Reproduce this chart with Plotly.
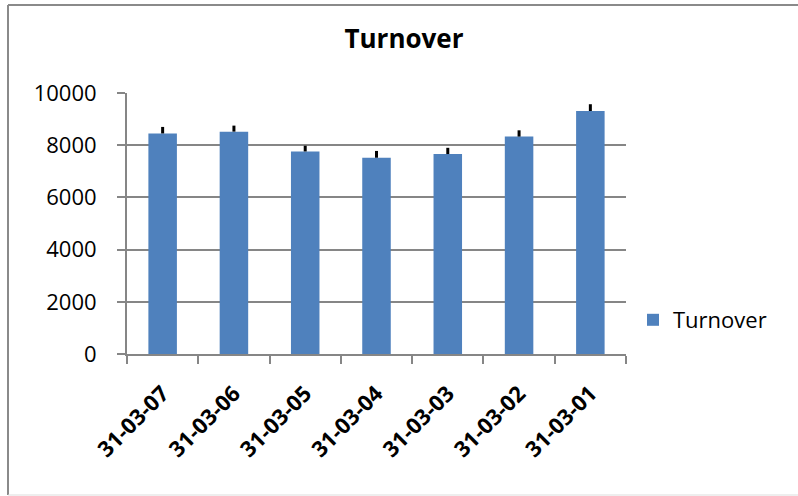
import plotly.graph_objects as go

# Turnover per financial year end, with upper error amounts
dates = ["31-03-07", "31-03-06", "31-03-05", "31-03-04", "31-03-03", "31-03-02", "31-03-01"]
turnover = [8450, 8520, 7760, 7520, 7660, 8330, 9310]
error_plus = [250, 230, 220, 260, 240, 240, 260]
y_ticks = [0, 2000, 4000, 6000, 8000, 10000]
y_tick_text = ["0", "2000", "4000", "6000", "8000", "10000"]

W, H = 798, 496
L, R, T, B = 127, 626, 93, 354  # plot area in pixels

def px_x(px):
    return (px - L) / (R - L)

def px_y(py):
    return (B - py) / (B - T)

FONT = "Open Sans"
GRID = "#868686"

fig = go.Figure()
fig.add_trace(go.Bar(
    x=dates,
    y=turnover,
    name="Turnover",
    marker=dict(color="#4F81BD", line=dict(width=0)),
    error_y=dict(type="data", array=error_plus, arrayminus=[0] * len(error_plus),
                 symmetric=False, color="black", thickness=3, width=0),
))

fig.update_layout(
    width=W, height=H,
    margin=dict(l=L, r=W - R, t=T, b=H - B),
    paper_bgcolor="white", plot_bgcolor="white",
    bargap=0.6,
    showlegend=True,
    title=dict(text="<b>Turnover</b>", x=404 / W, xanchor="center",
               y=1 - 39 / H, yanchor="middle",
               font=dict(family=FONT, size=26, color="black")),
    legend=dict(x=px_x(633), y=px_y(320), xanchor="left", yanchor="middle",
                font=dict(family=FONT, size=22, color="black"),
                bgcolor="rgba(0,0,0,0)", itemwidth=30),
    xaxis=dict(
        type="category",
        showline=True, linecolor=GRID, linewidth=2,
        ticks="outside", ticklen=8, tickwidth=2, tickcolor=GRID,
        tickson="boundaries",
        tickangle=-45,
        tickfont=dict(family=FONT, size=22, color="black", weight="bold"),
        ticklabelstandoff=16,
        showgrid=False,
    ),
    yaxis=dict(
        range=[0, 10000],
        tickvals=y_ticks,
        ticktext=y_tick_text,
        showline=True, linecolor=GRID, linewidth=2,
        ticks="outside", ticklen=8, tickwidth=2, tickcolor=GRID,
        showgrid=True, gridcolor=GRID, gridwidth=2,
        zeroline=False,
        tickfont=dict(family=FONT, size=22, color="black"),
        ticklabelstandoff=16,
    ),
    shapes=[
        # chart frame
        dict(type="line", xref="paper", yref="paper", x0=px_x(8), x1=px_x(8),
             y0=px_y(495), y1=px_y(5), line=dict(color="#8a8a8a", width=2)),
        dict(type="line", xref="paper", yref="paper", x0=px_x(8), x1=px_x(805),
             y0=px_y(5), y1=px_y(5), line=dict(color="#8a8a8a", width=2)),
        dict(type="line", xref="paper", yref="paper", x0=px_x(8), x1=px_x(805),
             y0=px_y(495), y1=px_y(495), line=dict(color="#dddddd", width=1)),
    ],
)

fig.write_html("out.html")
